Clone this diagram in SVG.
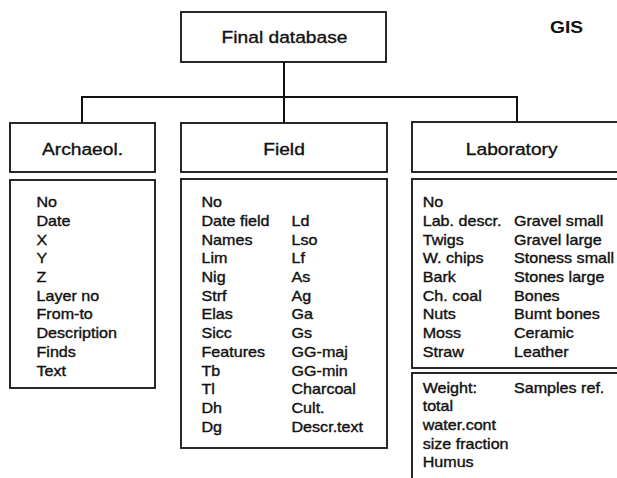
<svg xmlns="http://www.w3.org/2000/svg" width="617" height="478" viewBox="0 0 617 478">
<style>
.box{fill:#fff;stroke:#111;stroke-width:1.8}
.ln{fill:none;stroke:#111;stroke-width:2}
.hd{font-family:"Liberation Sans",Arial,sans-serif;font-size:17px;fill:#111;stroke:#111;stroke-width:0.35;text-anchor:middle}
.li{font-family:"Liberation Sans",Arial,sans-serif;font-size:14px;fill:#111;stroke:#111;stroke-width:0.35}
.gis{font-family:"Liberation Sans",Arial,sans-serif;font-size:16px;font-weight:bold;fill:#111}
</style>
<rect width="617" height="478" fill="#fff"/>
<g id="connectors">
<path class="ln" d="M284 62V97M82 123V97H517V123M284 97V123"/>
</g>
<g id="final-database">
<rect class="box" x="181" y="12" width="205" height="50"/>
<g transform="translate(284.5 0) scale(1.13 1)"><text class="hd" x="0" y="43">Final database</text></g>
</g>
<g id="gis">
<g transform="translate(550 0) scale(1.2 1)"><text class="gis" x="0" y="33">GIS</text></g>
</g>
<g id="archaeol">
<rect class="box" x="10" y="123" width="145" height="49"/>
<g transform="translate(82.5 0) scale(1.13 1)"><text class="hd" x="0" y="155.5">Archaeol.</text></g>
</g>
<g id="archaeol-fields">
<rect class="box" x="10" y="180" width="145" height="208"/>
<g transform="translate(36.5 0) scale(1.15 1)"><text class="li">
<tspan x="0" y="207.3">No</tspan><tspan x="0" y="226">Date</tspan><tspan x="0" y="244.7">X</tspan><tspan x="0" y="263.4">Y</tspan><tspan x="0" y="282.1">Z</tspan><tspan x="0" y="300.8">Layer no</tspan><tspan x="0" y="319.5">From-to</tspan><tspan x="0" y="338.2">Description</tspan><tspan x="0" y="356.9">Finds</tspan><tspan x="0" y="375.6">Text</tspan>
</text></g>
</g>
<g id="field">
<rect class="box" x="181" y="123" width="206" height="49"/>
<g transform="translate(284 0) scale(1.13 1)"><text class="hd" x="0" y="155">Field</text></g>
</g>
<g id="field-fields">
<rect class="box" x="181" y="179" width="206" height="269"/>
<g transform="translate(201.5 0) scale(1.15 1)"><text class="li">
<tspan x="0" y="207.3">No</tspan><tspan x="0" y="226">Date field</tspan><tspan x="0" y="244.7">Names</tspan><tspan x="0" y="263.4">Lim</tspan><tspan x="0" y="282.1">Nig</tspan><tspan x="0" y="300.8">Strf</tspan><tspan x="0" y="319.5">Elas</tspan><tspan x="0" y="338.2">Sicc</tspan><tspan x="0" y="356.9">Features</tspan><tspan x="0" y="375.6">Tb</tspan><tspan x="0" y="394.3">Tl</tspan><tspan x="0" y="413">Dh</tspan><tspan x="0" y="431.7">Dg</tspan>
</text></g>
<g transform="translate(291.5 0) scale(1.15 1)"><text class="li">
<tspan x="0" y="226">Ld</tspan><tspan x="0" y="244.7">Lso</tspan><tspan x="0" y="263.4">Lf</tspan><tspan x="0" y="282.1">As</tspan><tspan x="0" y="300.8">Ag</tspan><tspan x="0" y="319.5">Ga</tspan><tspan x="0" y="338.2">Gs</tspan><tspan x="0" y="356.9">GG-maj</tspan><tspan x="0" y="375.6">GG-min</tspan><tspan x="0" y="394.3">Charcoal</tspan><tspan x="0" y="413">Cult.</tspan><tspan x="0" y="431.7">Descr.text</tspan>
</text></g>
</g>
<g id="laboratory">
<rect class="box" x="412" y="122" width="220" height="50"/>
<g transform="translate(511.7 0) scale(1.13 1)"><text class="hd" x="0" y="155">Laboratory</text></g>
</g>
<g id="laboratory-fields">
<rect class="box" x="412" y="179" width="220" height="189"/>
<g transform="translate(422.7 0) scale(1.15 1)"><text class="li">
<tspan x="0" y="207.3">No</tspan><tspan x="0" y="226">Lab. descr.</tspan><tspan x="0" y="244.7">Twigs</tspan><tspan x="0" y="263.4">W. chips</tspan><tspan x="0" y="282.1">Bark</tspan><tspan x="0" y="300.8">Ch. coal</tspan><tspan x="0" y="319.5">Nuts</tspan><tspan x="0" y="338.2">Moss</tspan><tspan x="0" y="356.9">Straw</tspan>
</text></g>
<g transform="translate(514 0) scale(1.15 1)"><text class="li">
<tspan x="0" y="226">Gravel small</tspan><tspan x="0" y="244.7">Gravel large</tspan><tspan x="0" y="263.4">Stoness small</tspan><tspan x="0" y="282.1">Stones large</tspan><tspan x="0" y="300.8">Bones</tspan><tspan x="0" y="319.5">Bumt bones</tspan><tspan x="0" y="338.2">Ceramic</tspan><tspan x="0" y="356.9">Leather</tspan>
</text></g>
</g>
<g id="laboratory-samples">
<rect class="box" x="412" y="373" width="220" height="130"/>
<g transform="translate(422.7 0) scale(1.15 1)"><text class="li">
<tspan x="0" y="392.7">Weight:</tspan><tspan x="0" y="411.4">total</tspan><tspan x="0" y="430.1">water.cont</tspan><tspan x="0" y="448.8">size fraction</tspan><tspan x="0" y="467.5">Humus</tspan>
</text></g>
<g transform="translate(514 0) scale(1.15 1)"><text class="li"><tspan x="0" y="392.7">Samples ref.</tspan></text></g>
</g>
</svg>
